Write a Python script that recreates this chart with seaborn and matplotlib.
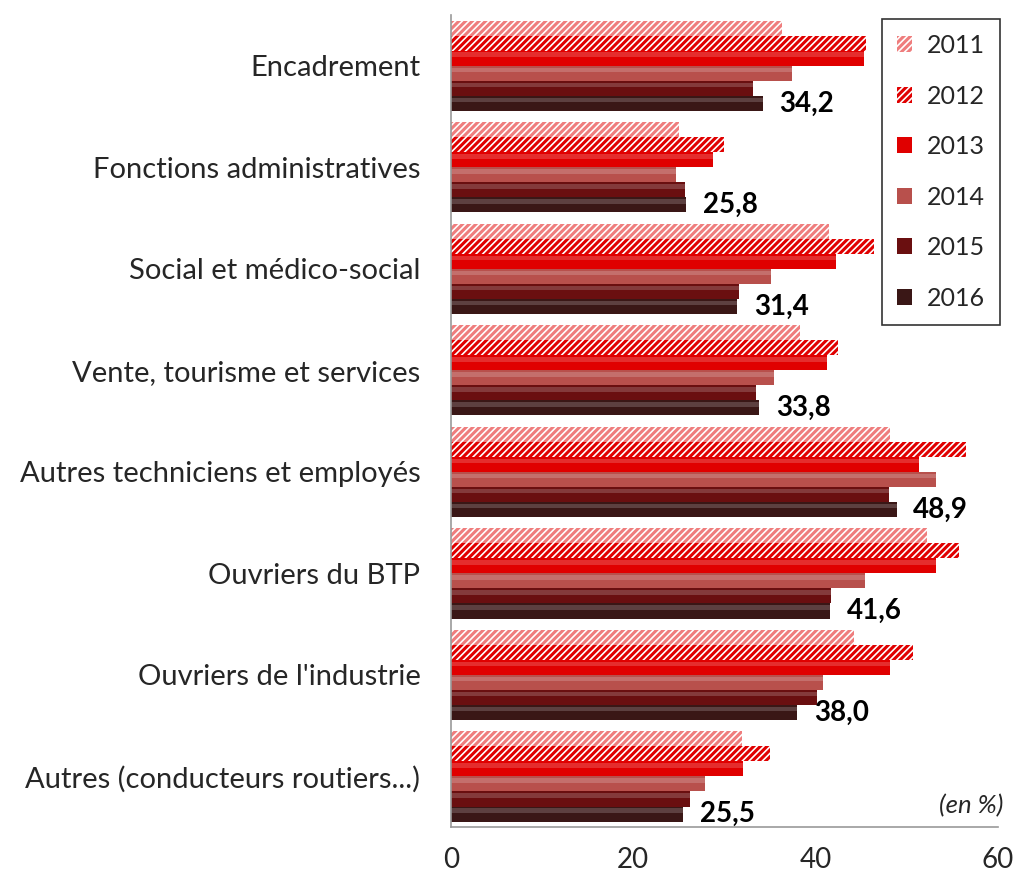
import numpy as np
import pandas as pd
import matplotlib
matplotlib.use("Agg")
import matplotlib.pyplot as plt
import seaborn as sns

categories = [
    "Encadrement",
    "Fonctions administratives",
    "Social et médico-social",
    "Vente, tourisme et services",
    "Autres techniciens et employés",
    "Ouvriers du BTP",
    "Ouvriers de l'industrie",
    "Autres (conducteurs routiers...)",
]
years = ["2011", "2012", "2013", "2014", "2015", "2016"]
v2011 = [36.3, 25.0, 41.5, 38.3, 48.2, 52.2, 44.2, 31.9]
v2012 = [45.6, 30.0, 46.4, 42.5, 56.5, 55.8, 50.7, 35.0]
v2013 = [45.3, 28.8, 42.2, 41.3, 51.4, 53.2, 48.2, 32.1]
v2014 = [37.4, 24.7, 35.1, 35.5, 53.2, 45.4, 40.8, 27.9]
v2015 = [33.1, 25.7, 31.6, 33.5, 48.1, 41.7, 40.2, 26.2]
v2016 = [34.2, 25.8, 31.4, 33.8, 48.9, 41.6, 38.0, 25.5]
x_ticks = [0, 20, 40, 60]

series = [v2011, v2012, v2013, v2014, v2015, v2016]
df = pd.DataFrame(
    [(c, y, v) for y, vals in zip(years, series) for c, v in zip(categories, vals)],
    columns=["categorie", "annee", "valeur"],
)

colors = ["#ffffff", "#ffffff", "#e00000", "#b8504c", "#6a0f10", "#3a1716"]
hatch_colors = {0: "#ef7d7d", 1: "#e00000"}

sns.set_style("white")
plt.rcParams["font.family"] = ["Lato", "DejaVu Sans"]
plt.rcParams["hatch.linewidth"] = 2.2

fig = plt.figure(figsize=(10.17, 8.80), dpi=100)
ax = fig.add_axes([0.4435, 0.06, 0.5375, 0.923])

sns.barplot(data=df, y="categorie", x="valeur", hue="annee", order=categories,
            hue_order=years, palette=colors, width=0.89, orient="h",
            errorbar=None, legend=False, ax=ax, saturation=1)

for i, cont in enumerate(ax.containers):
    for p in cont.patches:
        if i in hatch_colors:
            p.set_facecolor("white")
            p.set_edgecolor(hatch_colors[i])
            p.set_hatch("/////")
            p.set_linewidth(0)
        else:
            p.set_edgecolor("none")
            # simple bevel highlight on upper part of each solid bar
            hl = plt.Rectangle((p.get_x(), p.get_y() + p.get_height() * 0.12),
                               p.get_width(), p.get_height() * 0.3,
                               color="white", alpha=0.18, lw=0, zorder=p.get_zorder() + 0.1)
            ax.add_patch(hl)

labels = [f"{v:.1f}".replace(".", ",") for v in v2016]
ax.bar_label(ax.containers[5], labels=labels, padding=12, fontsize=20,
             fontweight="bold", color="black")

ax.set_xlim(0, 60)
ax.set_ylim(7.5, -0.5)
ax.set_xticks(x_ticks)
ax.set_xticklabels([str(t) for t in x_ticks], fontsize=20)
ax.tick_params(axis="x", direction="out", length=8, width=1, color="#888888", pad=6)
ax.tick_params(axis="y", length=0, pad=22, labelsize=21)
ax.set_xlabel("")
ax.set_ylabel("")
for s in ["top", "right"]:
    ax.spines[s].set_visible(False)
for s in ["left", "bottom"]:
    ax.spines[s].set_color("#999999")
    ax.spines[s].set_linewidth(1.2)

handles = [cont.patches[0] for cont in ax.containers]
leg = ax.legend(handles, years, loc="upper right", bbox_to_anchor=(1.004, 0.995),
                fontsize=18, frameon=True, fancybox=False, handlelength=0.6,
                handleheight=0.6, handletextpad=0.6, labelspacing=1.1,
                borderpad=0.6, borderaxespad=0)
leg.get_frame().set_edgecolor("black")
leg.get_frame().set_linewidth(1.2)

ax.text(1.01, 0.012, "(en %)", transform=ax.transAxes, ha="right", va="bottom",
        fontsize=18.5, style="italic")

fig.savefig("out.png", dpi=100)
